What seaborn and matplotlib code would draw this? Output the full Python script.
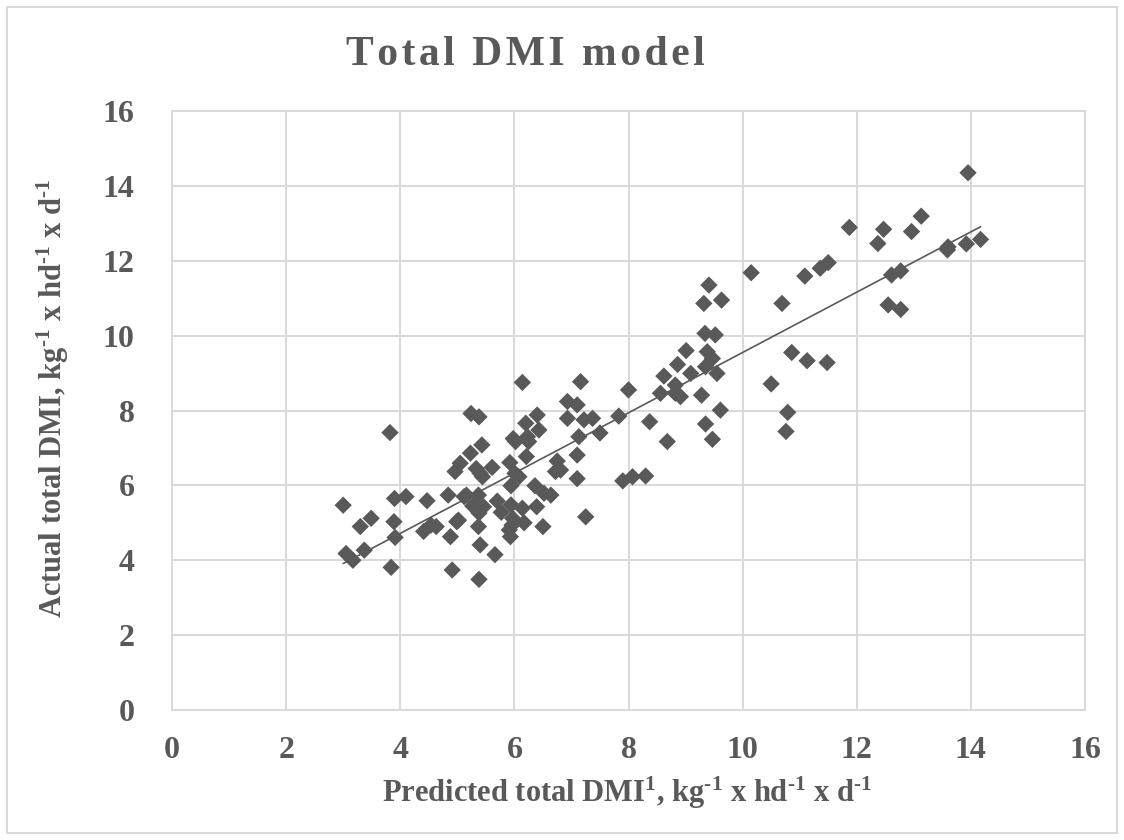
import numpy as np
import pandas as pd
import matplotlib
matplotlib.use('Agg')
import matplotlib.pyplot as plt
import seaborn as sns
from matplotlib.patches import Rectangle

# predicted vs actual total DMI
pred_dmi = [3.00, 3.05, 3.17, 3.30, 3.37, 3.49, 3.82, 3.84, 3.89, 3.90,
            3.91, 4.10, 4.41, 4.47, 4.54, 4.63, 4.84, 4.88, 4.91, 4.96,
            5.02, 5.05, 5.16, 5.23, 5.24, 5.38, 5.43, 5.27, 5.33, 5.37,
            5.40, 5.37, 5.40, 5.38, 5.38, 5.46, 5.44, 5.61, 5.70, 5.66,
            5.77, 5.92, 5.94, 5.94, 5.97, 5.91, 5.93, 5.96, 6.01, 6.08,
            5.98, 6.14, 6.20, 6.23, 6.21, 6.14, 6.17, 6.36, 6.39, 6.40,
            6.43, 6.52, 6.50, 6.64, 6.72, 6.75, 6.81, 6.93, 6.93, 7.10,
            7.13, 7.10, 7.10, 7.16, 7.22, 7.25, 7.37, 7.50, 7.83, 7.90,
            8.00, 8.07, 8.30, 8.37, 8.56, 8.62, 8.68, 8.86, 8.82, 8.91,
            9.01, 9.09, 9.28, 9.32, 9.34, 9.35, 9.35, 9.38, 9.41, 9.47,
            9.47, 9.52, 9.55, 9.61, 9.63, 10.15, 10.50, 10.69, 10.76, 10.79,
            10.86, 11.09, 11.13, 11.36, 11.48, 11.50, 11.87, 12.37, 12.47, 12.55,
            12.61, 12.77, 12.77, 12.96, 13.13, 13.59, 13.60, 13.92, 13.95, 14.17,
            8.82, 6.02, 6.25, 5.12, 4.99]
actual_dmi = [5.47, 4.18, 4.00, 4.90, 4.27, 5.12, 7.41, 3.81, 5.03, 5.65,
              4.61, 5.70, 4.77, 5.59, 4.94, 4.90, 5.74, 4.63, 3.74, 6.37,
              5.07, 6.59, 5.74, 6.86, 7.92, 7.83, 7.08, 5.45, 6.45, 5.74,
              6.32, 4.90, 4.41, 3.49, 5.26, 5.43, 6.23, 6.48, 5.58, 4.15,
              5.28, 6.61, 5.99, 5.48, 5.12, 4.81, 4.63, 4.94, 6.32, 6.23,
              7.25, 8.75, 7.66, 7.30, 6.77, 5.39, 5.00, 5.99, 5.43, 7.88,
              7.48, 5.79, 4.90, 5.74, 6.37, 6.65, 6.41, 8.24, 7.79, 8.15,
              7.30, 6.81, 6.18, 8.77, 7.75, 5.16, 7.79, 7.40, 7.85, 6.12,
              8.55, 6.23, 6.25, 7.70, 8.46, 8.92, 7.17, 9.23, 8.68, 8.37,
              9.60, 8.99, 8.41, 10.86, 10.06, 9.17, 7.64, 9.57, 11.35, 9.39,
              7.23, 10.02, 8.99, 8.01, 10.95, 11.68, 8.71, 10.86, 7.44, 7.95,
              9.55, 11.59, 9.33, 11.80, 9.28, 11.95, 12.89, 12.46, 12.84, 10.82,
              11.62, 11.73, 10.70, 12.78, 13.19, 12.29, 12.37, 12.45, 14.35, 12.57,
              8.46, 7.17, 7.17, 5.70, 5.03]

df = pd.DataFrame({'pred': pred_dmi, 'actual': actual_dmi})

x_ticks = [0, 2, 4, 6, 8, 10, 12, 14, 16]
y_ticks = [0, 2, 4, 6, 8, 10, 12, 14, 16]

sns.set_theme(style="whitegrid")
plt.rcParams['font.family'] = ['Liberation Serif', 'DejaVu Serif']
plt.rcParams['font.weight'] = 'bold'
plt.rcParams['mathtext.fontset'] = 'custom'
plt.rcParams['mathtext.rm'] = 'Liberation Serif:bold'
plt.rcParams['mathtext.bf'] = 'Liberation Serif:bold'
plt.rcParams['mathtext.it'] = 'Liberation Serif:bold'

grey = '#595959'
grid_grey = '#d9d9d9'

fig = plt.figure(figsize=(11.24, 8.4), dpi=100)
ax = fig.add_axes([172 / 1124, 1 - 710 / 840, (1085 - 172) / 1124, (710 - 111) / 840])

sns.scatterplot(x='pred', y='actual', data=df, marker='D', s=78,
                color=grey, edgecolor='none', linewidth=0, ax=ax, zorder=3)
sns.regplot(x='pred', y='actual', data=df, scatter=False, ci=None,
            truncate=True, color=grey, line_kws={'linewidth': 1.2}, ax=ax)

ax.set_xlim(0, 16)
ax.set_ylim(0, 16)
ax.set_xticks(x_ticks)
ax.set_yticks(y_ticks)
ax.grid(True, color=grid_grey, linewidth=1.4)
for sp in ax.spines.values():
    sp.set_color(grid_grey)
    sp.set_linewidth(1.4)
ax.tick_params(axis='both', length=0, labelsize=23, labelcolor=grey)
ax.tick_params(axis='x', pad=19)
ax.tick_params(axis='y', pad=27)
ax.set_xticklabels([str(t) for t in x_ticks], fontweight='bold')
ax.set_yticklabels([str(t) for t in y_ticks], fontweight='bold')
ax.set_xlabel('')
ax.set_ylabel('')

sup = r'$^{\text{-}1}$'
fig.text(627 / 1124, 1 - 793 / 840,
         'Predicted total DMI$^{1}$, kg' + sup + ' x hd' + sup + ' x d' + sup,
         ha='center', va='center', fontsize=22, fontweight='bold', color=grey)
fig.text(53 / 1124, 1 - 398 / 840,
         'Actual total DMI, kg' + sup + ' x hd' + sup + ' x d' + sup,
         ha='center', va='center', rotation=90, fontsize=22,
         fontweight='bold', color=grey)

title = '\u200a'.join('Total DMI model')
fig.text(525 / 1124, 1 - 55 / 840, title, ha='center', va='center',
         fontsize=30, fontweight='bold', color=grey)

fig.add_artist(Rectangle((7 / 1124, 7 / 840), 1110 / 1124, 826 / 840,
                         transform=fig.transFigure, fill=False,
                         edgecolor=grid_grey, linewidth=1.4))

plt.savefig('out.png', dpi=100)
plt.close()
